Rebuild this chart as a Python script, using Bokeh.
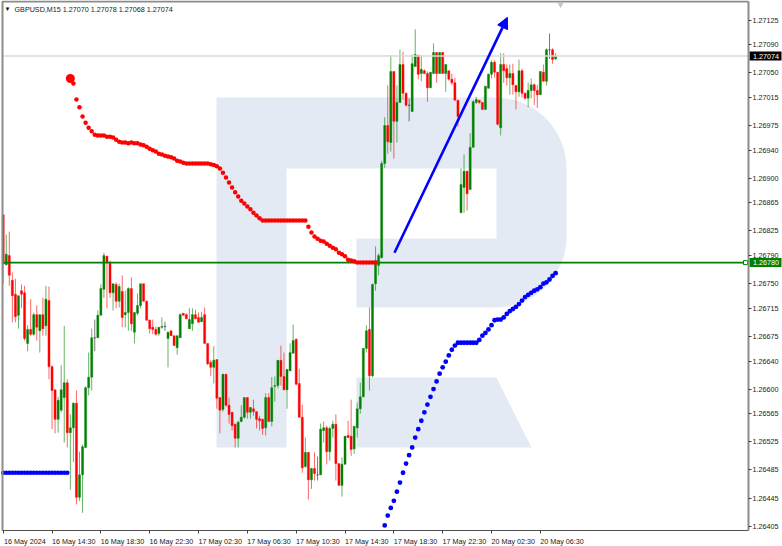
import numpy as np
from bokeh.plotting import figure
from bokeh.models import (ColumnDataSource, FixedTicker, LinearAxis, Range1d, Label,
                          Arrow, NormalHead, NumeralTickFormatter)
from bokeh.embed import file_html
from bokeh.resources import INLINE

# Prices in 1e-5 units (pipettes), one entry per M15 bar
opens = [126848,126777,126790,126755,126735,126705,126740,126737,126665,126685,
126678,126706,126683,126706,126690,126726,126632,126599,126557,126570,
126588,126609,126538,126545,126580,126446,126478,126517,126602,126617,
126673,126673,126705,126742,126789,126779,126737,126749,126725,126739,
126706,126709,126743,126681,126708,126719,126750,126725,126698,126688,
126685,126679,126688,126689,126672,126683,126676,126659,126673,126708,
126706,126686,126693,126706,126702,126696,126706,126665,126638,126631,
126642,126588,126571,126621,126577,126567,126550,126530,126554,126560,
126588,126567,126572,126568,126558,126557,126545,126588,126554,126604,
126605,126641,126618,126599,126626,126651,126671,126608,126560,126490,
126510,126471,126487,126478,126478,126541,126545,126511,126544,126550,
126494,126463,126493,126534,126533,126515,126545,126572,126589,126658,
126685,126619,126750,126776,126787,126921,126975,126951,127052,126981,
127008,127062,127021,127004,126995,127059,127075,127049,127053,127049,
127029,127049,127079,127049,127079,127049,127053,127041,127036,127011,
126851,126887,126910,126884,126944,127008,127011,127008,126998,127028,
127048,127065,127051,126972,127062,127056,127043,127049,127032,127023,
127053,127021,127014,127025,127033,127025,127019,127051,127038,127083,127083,127070]
highs = [126848,126820,126824,126766,126757,126733,126749,126747,126691,126728,
126709,126719,126706,126730,126747,126746,126634,126599,126589,126634,
126690,126614,126564,126581,126598,126511,126521,126604,126652,126686,
126699,126712,126749,126794,126790,126783,126750,126752,126750,126762,
126740,126745,126759,126709,126736,126750,126750,126726,126699,126699,
126689,126688,126702,126696,126681,126683,126676,126676,126708,126708,
126708,126715,126715,126713,126709,126710,126716,126665,126641,126661,
126642,126588,126622,126622,126588,126567,126551,126555,126577,126588,
126588,126574,126585,126568,126562,126558,126594,126594,126617,126618,
126641,126662,126652,126628,126665,126692,126672,126629,126578,126531,
126510,126488,126510,126504,126551,126554,126548,126547,126555,126564,
126494,126503,126533,126555,126585,126547,126581,126609,126658,126691,
126716,126750,126803,126793,126925,126987,127032,127075,127052,127032,
127083,127080,127022,127014,127076,127112,127075,127075,127055,127052,
127051,127092,127079,127079,127080,127062,127053,127049,127043,127011,
126914,126934,126911,126964,127011,127016,127011,127008,127031,127049,
127068,127068,127051,127078,127078,127062,127062,127063,127033,127069,
127056,127022,127036,127042,127035,127033,127052,127062,127085,127106,127085,127078]
lows = [126750,126776,126747,126695,126695,126686,126715,126669,126654,126676,
126676,126669,126652,126676,126676,126614,126543,126537,126538,126567,
126524,126517,126457,126496,126436,126441,126424,126517,126591,126598,
126654,126673,126705,126730,126715,126730,126712,126715,126716,126688,
126688,126683,126683,126665,126705,126715,126725,126698,126679,126678,
126676,126676,126686,126683,126631,126676,126662,126649,126673,126705,
126700,126686,126683,126700,126695,126696,126665,126634,126619,126608,
126572,126537,126568,126575,126551,126541,126517,126517,126553,126558,
126558,126558,126562,126544,126541,126535,126534,126553,126547,126582,
126601,126605,126599,126572,126626,126651,126605,126560,126481,126488,
126443,126458,126470,126470,126478,126524,126493,126498,126531,126470,
126463,126447,126493,126531,126505,126508,126531,126565,126589,126652,
126598,126617,126740,126762,126786,126915,126935,126938,126928,126951,
127008,127012,127002,126981,126995,127059,127041,127038,127049,127009,
127028,127049,127036,127049,127049,127023,127039,127033,127011,126974,
126851,126851,126854,126884,126944,127006,127006,126998,126998,127028,
127042,127043,126975,126961,127036,127032,127019,127019,126998,127016,
127015,127012,127001,127014,127004,127000,127019,127038,127032,127070,127063,127068]
closes = [126778,126792,126762,126733,126703,126733,126735,126672,126685,126678,
126706,126688,126706,126686,126728,126632,126598,126557,126584,126599,
126609,126538,126545,126580,126446,126478,126518,126602,126617,126673,
126673,126705,126743,126790,126780,126737,126750,126725,126746,126702,
126709,126743,126693,126709,126719,126750,126725,126698,126686,126685,
126678,126688,126689,126689,126681,126676,126662,126676,126706,126705,
126700,126699,126706,126700,126695,126702,126665,126636,126631,126641,
126587,126570,126621,126577,126564,126548,126530,126553,126560,126588,
126567,126574,126568,126557,126555,126544,126588,126554,126602,126605,
126641,126618,126599,126628,126652,126669,126607,126560,126488,126510,
126471,126487,126480,126478,126543,126545,126511,126544,126550,126494,
126463,126493,126533,126531,126514,126547,126572,126589,126658,126683,
126619,126749,126783,126790,126921,126975,126952,127052,126981,127008,
127062,127021,127004,127004,127063,127076,127048,127055,127049,127029,
127051,127079,127049,127079,127049,127062,127041,127036,127011,126988,
126891,126910,126878,126944,127009,127012,127008,126998,127031,127048,
127065,127051,126977,127062,127053,127043,127049,127033,127023,127053,
127021,127014,127025,127033,127025,127019,127052,127038,127083,127083,127069,127074]

# Indicator dots
red_start = 23
red_dots = [127035,127012,127001,126988,126979,126972,126967,126962,126961,126961,126961,126959,126959,
126958,126955,126952,126951,126951,126950,126951,126950,126950,126948,126947,126945,126942,126940,
126938,126935,126934,126932,126931,126930,126928,126925,126924,126922,
126921,126921,126921,126921,126921,126921,126921,126921,126920,126919,
126917,126914,126908,126901,126894,126887,126880,126874,126868,126864,126860,126856,126851,126847,126843,
126840,126840,126840,126840,126840,126840,126840,126840,126840,126840,126840,126840,126840,126840,126840,
126831,126823,126817,126814,126811,126810,126807,126804,126801,126799,126794,126792,126789,126784,126783,126782,
126780,126780,126780,126780,126780,126780,126780]
red_first_bar = 22
red_first = 127042
blue_flat = [126481] * 22
blue_start = 125
blue_dots = [126406,126420,126431,126441,126454,126467,126481,126494,126506,126517,126531,126543,126555,
126567,126578,126589,126600,126611,126622,126631,126639,126648,126656,126662,
126666,126666,126666,126666,126666,126666,126666,126670,126676,126680,126685,126691,126698,126699,126699,
126702,126707,126711,126714,126717,126721,126726,126731,126734,126737,126740,126742,126745,126750,126752,
126756,126761,126765]

arrow_bars = [128.2, 165.2]
arrow_prices = [126794, 127129]
level_green = 1.26780
level_price = 1.27074

y_ticks = [1.27125,1.27090,1.27050,1.27015,1.26975,1.26940,1.26900,1.26865,1.26825,1.26790,
           1.26750,1.26715,1.26675,1.26640,1.26600,1.26565,1.26525,1.26485,1.26445,1.26405]
x_ticks = [0,16,32,48,64,80,96,112,128,144,160,176]
x_labels = ["16 May 2024","16 May 14:30","16 May 18:30","16 May 22:30","17 May 02:30","17 May 06:30",
            "17 May 10:30","17 May 14:30","17 May 18:30","17 May 22:30","20 May 02:30","20 May 06:30"]
title = "GBPUSD,M15  1.27070 1.27078 1.27068 1.27074"

# Page-pixel mapping used only for the frame and decoration
PX0, PXS = 2.7, 3.052
PY0, PYS = 1.27153, 0.00001423
def fx(px): return (np.asarray(px, dtype=float) - PX0) / PXS
def fy(py): return PY0 - np.asarray(py, dtype=float) * PYS

FONT = "Liberation Sans"
FS = "7.2px"
BORDER = "#8c8c8c"
LEFT, RIGHT, TOP, BOTTOM = 2, 748, 1, 530

# The frame covers the whole canvas so price tags can be drawn beside the axes
p = figure(width=782, height=546, output_backend="svg", toolbar_location=None,
           x_range=Range1d(float(fx(0)), float(fx(782))), y_range=Range1d(float(fy(546)), float(fy(0))),
           min_border=0, x_axis_location=None, y_axis_location=None, background_fill_color="white",
           border_fill_color="white", outline_line_color=None)
p.grid.visible = False

# Watermark
t1 = np.linspace(-np.pi / 2, 0, 24)
t2 = np.linspace(0, np.pi / 2, 24)
wm_x = [216, *(495 + 71 * np.cos(t1)), *(495 + 71 * np.cos(t2)), 356, 356, 496, 496, 286, 286, 216]
wm_y = [97, *(168 + 71 * np.sin(t1)), *(236 + 71 * np.sin(t2)), 307, 238, 238, 168, 168, 447, 447]
p.patch(fx(wm_x), fy(wm_y), fill_color="#e4eaf3", line_color=None)
p.patch(fx([356, 496, 531, 356]), fy([377, 377, 447, 447]), fill_color="#e4eaf3", line_color=None)

# Candles
o, h, l, c = [np.array(a, dtype=float) / 1e5 for a in (opens, highs, lows, closes)]
idx = np.arange(len(o))
cols = np.where(c > o, "#008000", np.where(c < o, "#ff0000", "#202020"))
src = ColumnDataSource(dict(x=idx, h=h, l=l, top=np.maximum(o, c), bottom=np.minimum(o, c), color=cols))
p.segment("x", "h", "x", "l", source=src, line_color="color", line_width=1, line_alpha=0.6)
p.vbar("x", 0.68, "top", "bottom", source=src, fill_color="color", line_color="color", line_width=0.4)

# Level lines
p.line(fx([LEFT, RIGHT]), [level_price, level_price], line_color="#d8d8d8", line_width=1.5)
p.line(fx([LEFT, RIGHT]), [level_green, level_green], line_color="#008000", line_width=1.8)
p.scatter([float(fx(745))], [level_green], marker="square", size=4, fill_color="white", line_color="#008000", line_width=1)

# Dots
p.scatter(np.arange(len(blue_flat)), np.array(blue_flat) / 1e5, size=4.5, color="#0000ff", line_width=0)
p.scatter(blue_start + np.arange(len(blue_dots)), np.array(blue_dots) / 1e5, size=4.8, color="#0000ff", line_width=0)
p.scatter(red_start + np.arange(len(red_dots)), np.array(red_dots) / 1e5, size=4.5, color="#ff0000", line_width=0)
p.scatter([red_first_bar], [red_first / 1e5], size=9, color="#ff0000", line_width=0)

# Arrow
p.add_layout(Arrow(end=NormalHead(size=11, fill_color="#0000ff", line_color="#0000ff", line_width=1),
                   x_start=arrow_bars[0], y_start=arrow_prices[0] / 1e5,
                   x_end=arrow_bars[1], y_end=arrow_prices[1] / 1e5,
                   line_color="#0000ff", line_width=2.6))

# Border: left and top (right and bottom come from the axes)
p.line(fx([LEFT, LEFT, RIGHT]), fy([BOTTOM, TOP, TOP]), line_color=BORDER, line_width=2)

# Chart-shift marker hanging from the top edge
p.scatter([float(fx(560))], [float(fy(3.5))], marker="inverted_triangle", size=7, color="#c4c4c4", line_width=0)

# Axes
ax_r = LinearAxis(ticker=FixedTicker(ticks=y_ticks), formatter=NumeralTickFormatter(format="0.00000"),
                  fixed_location=float(fx(RIGHT)), bounds=(float(fy(BOTTOM)), float(fy(TOP))))
ax_r.axis_line_color = BORDER
ax_r.axis_line_width = 2
ax_r.major_tick_line_color = "#404040"
ax_r.major_tick_in = 0
ax_r.major_tick_out = 3
ax_r.minor_tick_line_color = None
ax_r.major_label_standoff = 1
ax_r.major_label_text_font = FONT
ax_r.major_label_text_font_size = FS
ax_r.major_label_text_color = "#202020"
p.add_layout(ax_r, "right")

# The labels hang to the right of their tick marks: major ticks carry the text, minor ticks the marks
LABEL_SHIFT = 7.1
label_pos = [t + LABEL_SHIFT for t in x_ticks]
ax_b = LinearAxis(ticker=FixedTicker(ticks=label_pos, minor_ticks=x_ticks),
                  major_label_overrides=dict(zip(label_pos, x_labels)),
                  fixed_location=float(fy(BOTTOM)), bounds=(float(fx(LEFT)), float(fx(RIGHT))))
ax_b.axis_line_color = "#505050"
ax_b.axis_line_width = 1
ax_b.major_tick_line_color = None
ax_b.major_tick_in = 0
ax_b.major_tick_out = 0
ax_b.minor_tick_line_color = "#404040"
ax_b.minor_tick_in = 0
ax_b.minor_tick_out = 3
ax_b.major_label_standoff = 3
ax_b.major_label_text_font = FONT
ax_b.major_label_text_font_size = FS
ax_b.major_label_text_color = "#202020"
p.add_layout(ax_b, "below")

# Header
p.add_layout(Label(x=float(fx(4)), y=float(fy(8.5)), text="\u25bc", text_font=FONT, text_font_size="6px",
                   text_color="black", text_baseline="middle"))
p.add_layout(Label(x=float(fx(14)), y=float(fy(8.5)), text=title, text_font=FONT, text_font_size=FS,
                   text_color="#202020", text_baseline="middle"))

# Price tags on the axis
for lev, bg in ((level_price, "#000000"), (level_green, "#008000")):
    ypx = (PY0 - lev) / PYS
    p.quad(left=float(fx(749)), right=float(fx(781)), top=float(fy(ypx - 4.5)), bottom=float(fy(ypx + 4.5)),
           fill_color=bg, line_color=None)
    p.add_layout(Label(x=float(fx(752.5)), y=lev, text=f"{lev:.5f}", text_font=FONT, text_font_size=FS,
                       text_color="white", text_baseline="middle"))

open("out.html", "w").write(file_html(p, INLINE))
